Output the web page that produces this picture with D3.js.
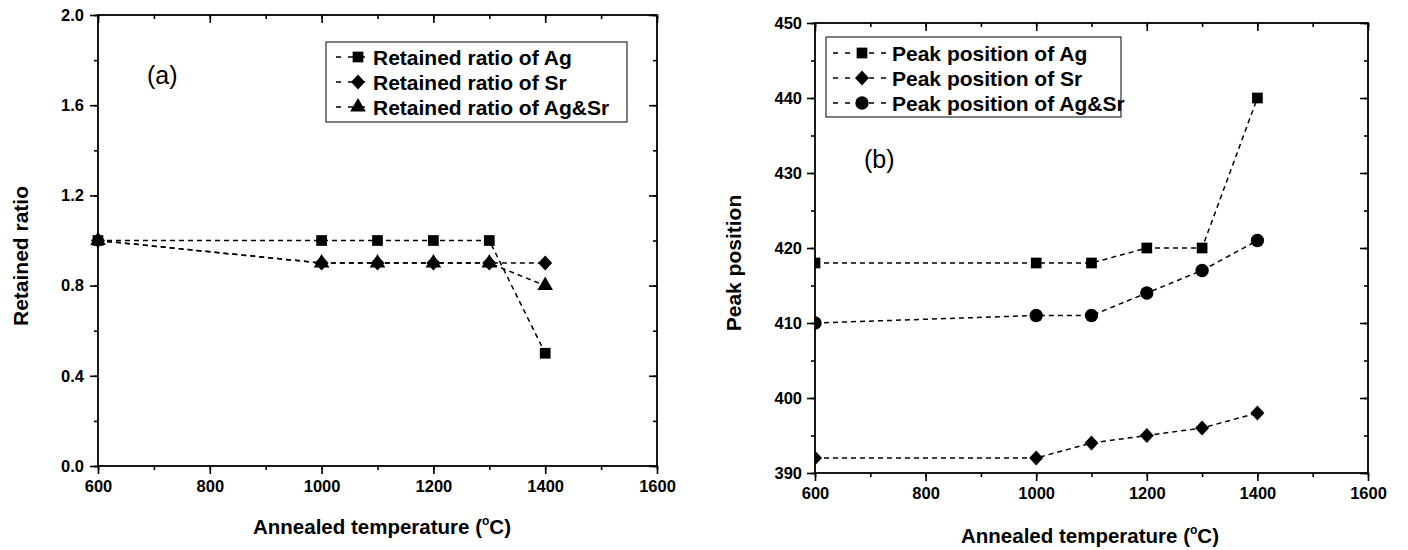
<!DOCTYPE html>
<html>
<head>
<meta charset="utf-8">
<script src="https://cdn.jsdelivr.net/npm/d3@7"></script>
<style>
  body { margin: 0; background: #fff; }
  svg text { font-family: "Liberation Sans", Arial, sans-serif; fill: #000; }
</style>
</head>
<body>
<svg id="chart" width="1408" height="550"></svg>
<script>
// annealing temperatures (deg C)
var temps = [600, 1000, 1100, 1200, 1300, 1400];

// panel (a): retained ratio
var retainedAg   = [1.0, 1.0, 1.0, 1.0, 1.0, 0.5];
var retainedSr   = [1.0, 0.9, 0.9, 0.9, 0.9, 0.9];
var retainedAgSr = [1.0, 0.9, 0.9, 0.9, 0.9, 0.8];
var legendA = ["Retained ratio of Ag", "Retained ratio of Sr", "Retained ratio of Ag&Sr"];

// panel (b): peak position
var peakAg   = [418, 418, 418, 420, 420, 440];
var peakSr   = [392, 392, 394, 395, 396, 398];
var peakAgSr = [410, 411, 411, 414, 417, 421];
var legendB = ["Peak position of Ag", "Peak position of Sr", "Peak position of Ag&Sr"];

var xMajor = [600, 800, 1000, 1200, 1400, 1600];
var yMajorA = [0.0, 0.4, 0.8, 1.2, 1.6, 2.0];
var yMajorB = [390, 400, 410, 420, 430, 440, 450];

var svg = d3.select("#chart");
svg.append("rect").attr("width", 1408).attr("height", 550).attr("fill", "#fff");

var symbols = {
  square: d3.symbol().type(d3.symbolSquare).size(115),
  diamond: function() { return "M0,-7.5L7,0L0,7.5L-7,0Z"; },
  triangle: d3.symbol().type(d3.symbolTriangle).size(105),
  circle: d3.symbol().type(d3.symbolCircle).size(140)
};

function drawPanel(cfg) {
  var g = svg.append("g");
  var x = d3.scaleLinear().domain([600, 1600]).range([cfg.left, cfg.right]);
  var y = d3.scaleLinear().domain(cfg.yDomain).range([cfg.bottom, cfg.top]);

  var xMinor = d3.range(600, 1601, 100);
  var yMinor = d3.range(cfg.yDomain[0], cfg.yDomain[1] + cfg.yMinorStep / 2, cfg.yMinorStep);

  // minor ticks
  g.append("g").attr("transform", "translate(0," + cfg.bottom + ")")
    .call(d3.axisBottom(x).tickValues(xMinor).tickSize(4).tickFormat(""));
  g.append("g").attr("transform", "translate(0," + cfg.top + ")")
    .call(d3.axisTop(x).tickValues(xMinor).tickSize(-4).tickFormat(""));
  g.append("g").attr("transform", "translate(" + cfg.left + ",0)")
    .call(d3.axisLeft(y).tickValues(yMinor).tickSize(4).tickFormat(""));
  g.append("g").attr("transform", "translate(" + cfg.right + ",0)")
    .call(d3.axisRight(y).tickValues(yMinor).tickSize(-4).tickFormat(""));

  // major ticks
  g.append("g").attr("transform", "translate(0," + cfg.bottom + ")")
    .call(d3.axisBottom(x).tickValues(xMajor).tickSize(8).tickPadding(6).tickFormat(d3.format("d")));
  g.append("g").attr("transform", "translate(0," + cfg.top + ")")
    .call(d3.axisTop(x).tickValues(xMajor).tickSize(-8).tickFormat(""));
  g.append("g").attr("transform", "translate(" + cfg.left + ",0)")
    .call(d3.axisLeft(y).tickValues(cfg.yMajor).tickSize(8).tickPadding(cfg.yPad).tickFormat(d3.format(cfg.yFormat)));
  g.append("g").attr("transform", "translate(" + cfg.right + ",0)")
    .call(d3.axisRight(y).tickValues(cfg.yMajor).tickSize(-8).tickFormat(""));

  g.selectAll(".domain").remove();
  g.selectAll(".tick line").attr("stroke", "#000").attr("stroke-width", 1.6);
  g.selectAll(".tick text")
    .style("font-size", "16.5px").style("font-weight", "bold")
    .style("font-family", "'Liberation Sans', Arial, sans-serif");

  g.append("rect")
    .attr("x", cfg.left).attr("y", cfg.top)
    .attr("width", cfg.right - cfg.left).attr("height", cfg.bottom - cfg.top)
    .attr("fill", "none").attr("stroke", "#000").attr("stroke-width", 1.8);

  // clip
  var clipId = "clip" + cfg.id;
  svg.append("clipPath").attr("id", clipId).append("rect")
    .attr("x", cfg.left).attr("y", cfg.top)
    .attr("width", cfg.right - cfg.left).attr("height", cfg.bottom - cfg.top);

  var plot = g.append("g");
  if (cfg.clip) plot.attr("clip-path", "url(#" + clipId + ")");

  var line = d3.line().x(function(d, i) { return x(temps[i]); }).y(function(d) { return y(d); });

  cfg.series.forEach(function(s) {
    plot.append("path").datum(s.values)
      .attr("d", line)
      .attr("fill", "none").attr("stroke", "#000")
      .attr("stroke-width", 1.5).attr("stroke-dasharray", "5,4");
  });
  cfg.series.forEach(function(s) {
    plot.selectAll(null).data(s.values).enter().append("path")
      .attr("d", symbols[s.symbol])
      .attr("transform", function(d, i) { return "translate(" + x(temps[i]) + "," + y(d) + ")"; })
      .attr("fill", "#000");
  });

  // legend
  var L = cfg.legend;
  g.append("rect").attr("x", L.x).attr("y", L.y).attr("width", L.w).attr("height", L.h)
    .attr("fill", "#fff").attr("stroke", "#000").attr("stroke-width", 1);
  cfg.legendOrder.forEach(function(s, i) {
    var cy = L.y + L.rowTop + i * L.rowStep;
    g.append("line").attr("x1", L.lineX1).attr("x2", L.lineX2).attr("y1", cy).attr("y2", cy)
      .attr("stroke", "#000").attr("stroke-width", 1.5).attr("stroke-dasharray", "5,7");
    g.append("path").attr("d", symbols[s.symbol])
      .attr("transform", "translate(" + L.symX + "," + cy + ")").attr("fill", "#000");
    g.append("text").attr("x", L.textX).attr("y", cy).attr("dy", "0.36em")
      .attr("font-size", 21).attr("font-weight", "bold").text(s.label);
  });

  // panel label
  g.append("text").attr("x", cfg.tag.x).attr("y", cfg.tag.y)
    .attr("font-size", 25).text(cfg.tag.text);

  // axis titles
  var xt = g.append("text").attr("x", cfg.xTitle.x).attr("y", cfg.xTitle.y)
    .attr("text-anchor", "middle").attr("font-size", 20.5).attr("font-weight", "bold");
  xt.append("tspan").text("Annealed temperature (");
  xt.append("tspan").attr("font-size", 12).attr("dy", -9).text("o");
  xt.append("tspan").attr("dy", 9).text("C)");

  g.append("text")
    .attr("transform", "translate(" + cfg.yTitle.x + "," + cfg.yTitle.y + ") rotate(-90)")
    .attr("text-anchor", "middle").attr("font-size", 21).attr("font-weight", "bold")
    .text(cfg.yTitle.text);
}

drawPanel({
  id: "a", left: 98, right: 657, top: 15, bottom: 466,
  yDomain: [0, 2], yMajor: yMajorA, yMinorStep: 0.2, yFormat: ".1f", yPad: 6, clip: false,
  series: [
    { values: retainedAgSr, symbol: "triangle" },
    { values: retainedSr, symbol: "diamond" },
    { values: retainedAg, symbol: "square" }
  ],
  legendOrder: [
    { label: legendA[0], symbol: "square" },
    { label: legendA[1], symbol: "diamond" },
    { label: legendA[2], symbol: "triangle" }
  ],
  legend: { x: 326, y: 42, w: 301, h: 80, rowTop: 15, rowStep: 25,
            lineX1: 336, lineX2: 370, symX: 358, textX: 373 },
  tag: { x: 147, y: 84, text: "(a)" },
  xTitle: { x: 382, y: 534 },
  yTitle: { x: 28, y: 256, text: "Retained ratio" }
});

drawPanel({
  id: "b", left: 815, right: 1368, top: 23, bottom: 473,
  yDomain: [390, 450], yMajor: yMajorB, yMinorStep: 5, yFormat: "d", yPad: 5, clip: true,
  series: [
    { values: peakAgSr, symbol: "circle" },
    { values: peakSr, symbol: "diamond" },
    { values: peakAg, symbol: "square" }
  ],
  legendOrder: [
    { label: legendB[0], symbol: "square" },
    { label: legendB[1], symbol: "diamond" },
    { label: legendB[2], symbol: "circle" }
  ],
  legend: { x: 826, y: 37, w: 295, h: 80, rowTop: 16, rowStep: 25,
            lineX1: 833, lineX2: 888, symX: 862, textX: 892 },
  tag: { x: 864, y: 168, text: "(b)" },
  xTitle: { x: 1090, y: 543 },
  yTitle: { x: 741, y: 263, text: "Peak position" }
});
</script>
</body>
</html>
